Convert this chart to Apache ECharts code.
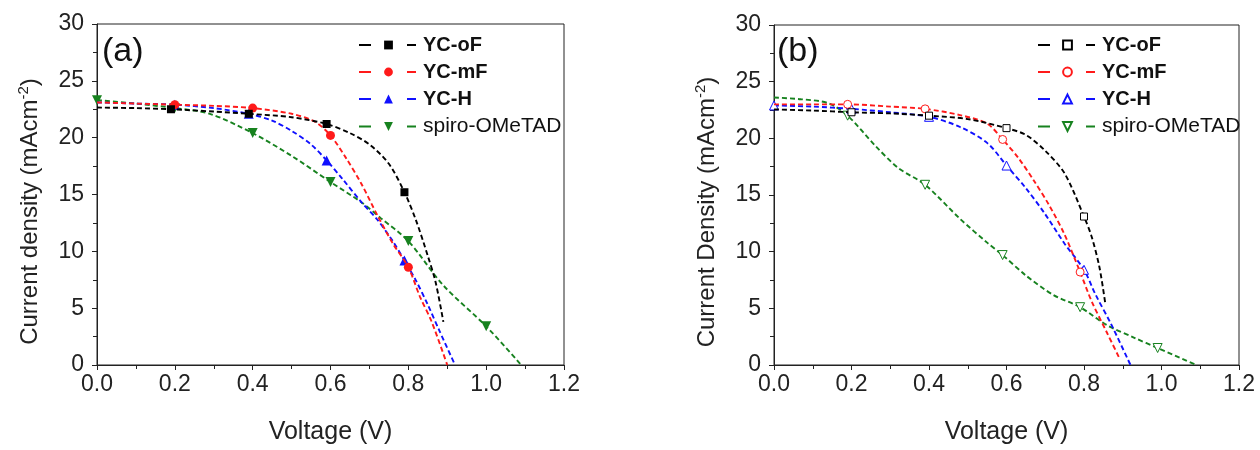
<!DOCTYPE html>
<html><head><meta charset="utf-8">
<script src="https://cdn.jsdelivr.net/npm/echarts@6/dist/echarts.min.js"></script>
<style>html,body{margin:0;padding:0;background:#fff}#c{width:1260px;height:450px}</style>
</head><body><div id="c"></div>
<script>
// ---------- data: panel (a) ----------
const names = ['YC-oF', 'YC-mF', 'YC-H', 'spiro-OMeTAD'];
const xTicks = [0, 0.2, 0.4, 0.6, 0.8, 1.0, 1.2];
const yTicks = [0, 5, 10, 15, 20, 25, 30];

const vA_oF = [0, 0.1, 0.19, 0.3, 0.39, 0.5, 0.59, 0.65, 0.7, 0.75, 0.79, 0.82, 0.85, 0.87, 0.89];
const jA_oF = [22.65, 22.6, 22.5, 22.3, 22.1, 21.8, 21.2, 20.4, 19.4, 17.7, 15.2, 12.7, 9.6, 7.3, 3.8];
const mA_oF = [2, 4, 6, 10];

const vA_mF = [0, 0.1, 0.2, 0.3, 0.4, 0.5, 0.56, 0.6, 0.64, 0.68, 0.72, 0.76, 0.8, 0.83, 0.86, 0.9];
const jA_mF = [23.1, 23.0, 22.9, 22.8, 22.6, 22.1, 21.4, 20.2, 18.2, 15.9, 13.2, 10.7, 8.6, 6.0, 3.8, 0];
const mA_mF = [2, 4, 7, 12];

const vA_H = [0, 0.1, 0.2, 0.3, 0.39, 0.45, 0.5, 0.55, 0.59, 0.63, 0.68, 0.72, 0.76, 0.79, 0.82, 0.85, 0.88, 0.92];
const jA_H = [23.1, 23.0, 22.9, 22.6, 22.1, 21.5, 20.6, 19.4, 18.0, 16.4, 14.3, 12.8, 10.9, 9.2, 7.4, 5.3, 3.0, 0];
const mA_H = [2, 4, 8, 13];

const vA_sp = [0, 0.1, 0.2, 0.29, 0.4, 0.5, 0.6, 0.68, 0.73, 0.8, 0.89, 1.0, 1.09];
const jA_sp = [23.3, 23.0, 22.6, 22.1, 20.4, 18.4, 16.1, 14.3, 12.9, 10.9, 7.0, 3.4, 0];
const mA_sp = [0, 2, 4, 6, 9, 11];

// ---------- data: panel (b) ----------
const vB_oF = [0, 0.1, 0.2, 0.3, 0.4, 0.5, 0.6, 0.65, 0.7, 0.75, 0.8, 0.82, 0.84, 0.855];
const jB_oF = [22.55, 22.45, 22.3, 22.2, 22.0, 21.7, 20.9, 20.3, 18.9, 16.9, 13.1, 11.3, 8.6, 5.4];
const mB_oF = [2, 4, 6, 10];

const vB_mF = [0, 0.1, 0.19, 0.3, 0.39, 0.48, 0.55, 0.59, 0.63, 0.67, 0.71, 0.75, 0.79, 0.82, 0.86, 0.89];
const jB_mF = [23.0, 23.0, 23.0, 22.8, 22.6, 22.05, 21.3, 19.9, 18.3, 16.3, 14.1, 11.5, 8.2, 5.6, 2.8, 0.7];
const mB_mF = [2, 4, 7, 12];

const vB_H = [0, 0.1, 0.2, 0.3, 0.4, 0.48, 0.55, 0.6, 0.65, 0.7, 0.75, 0.8, 0.83, 0.87, 0.92];
const jB_H = [22.9, 22.8, 22.6, 22.3, 21.9, 21.0, 19.6, 17.6, 15.6, 13.3, 10.7, 8.4, 6.2, 3.6, 0];
const mB_H = [0, 2, 4, 7, 11];

const vB_sp = [0, 0.07, 0.14, 0.19, 0.26, 0.32, 0.39, 0.48, 0.55, 0.59, 0.65, 0.72, 0.79, 0.86, 0.93, 0.99, 1.09];
const jB_sp = [23.6, 23.45, 23.1, 22.0, 19.4, 17.4, 15.9, 12.9, 10.8, 9.7, 7.9, 6.2, 5.1, 3.5, 2.4, 1.5, 0];
const mB_sp = [3, 6, 9, 12, 15];

// ---------- styles ----------
const colors = ['#000000', '#ff1a1a', '#1010ff', '#17821f'];
const symbols = ['rect', 'circle', 'triangle', 'path://M0,0 L10,0 L5,9 Z'];
const symSizes = [8, 9, 10, 10];
const FONT = 'Liberation Sans, Arial, sans-serif';

function pts(v, j, marks, sym) {
  return v.map((x, i) => ({ value: [x, j[i]], symbol: marks.indexOf(i) >= 0 ? sym : 'none' }));
}

const panels = [
  { sets: [[vA_oF, jA_oF, mA_oF], [vA_mF, jA_mF, mA_mF], [vA_H, jA_H, mA_H], [vA_sp, jA_sp, mA_sp]], open: false, suffix: '' },
  { sets: [[vB_oF, jB_oF, mB_oF], [vB_mF, jB_mF, mB_mF], [vB_H, jB_H, mB_H], [vB_sp, jB_sp, mB_sp]], open: true, suffix: '#b' }
];

const series = [];
panels.forEach((p, pi) => {
  p.sets.forEach((s, k) => {
    const c = colors[k];
    series.push({
      type: 'line', name: names[k] + p.suffix,
      xAxisIndex: pi, yAxisIndex: pi,
      data: pts(s[0], s[1], s[2], symbols[k]),
      smooth: 0.3,
      symbol: symbols[k], symbolSize: p.open ? symSizes[k] - 1 : symSizes[k],
      showSymbol: true,
      lineStyle: { color: c, width: 1.9, type: [5, 3] },
      itemStyle: p.open ? { color: '#ffffff', borderColor: c, borderWidth: 1 } : { color: c, borderWidth: 0 },
      emphasis: { disabled: true },
      z: 10 - k
    });
  });
});

function xAxis(gi) {
  return {
    type: 'value', gridIndex: gi, min: 0, max: 1.2, interval: 0.2,
    name: 'Voltage (V)', nameLocation: 'middle', nameGap: 55,
    nameTextStyle: { fontSize: 25, color: '#222', fontFamily: FONT },
    axisLine: { lineStyle: { color: '#222', width: 1 } },
    axisTick: { show: true, inside: false, length: 5, lineStyle: { color: '#222' } },
    minorTick: { show: true, splitNumber: 2, length: 4, lineStyle: { color: '#222' } },
    splitLine: { show: false },
    axisLabel: { fontSize: 23, color: '#222', fontFamily: FONT, margin: 8, formatter: v => v.toFixed(1) }
  };
}
function yAxis(gi, title) {
  return {
    type: 'value', gridIndex: gi, min: 0, max: 30, interval: 5,
    name: title, nameLocation: 'middle', nameGap: 53,
    nameTextStyle: { fontSize: 24, color: '#222', fontFamily: FONT, padding: [0, 34, 0, 0],
      rich: { sup: { fontSize: 15, color: '#222', fontFamily: FONT, padding: [0, 0, 13, 0] } } },
    axisLine: { show: true, lineStyle: { color: '#222', width: 1 } },
    axisTick: { show: true, inside: false, length: 5, lineStyle: { color: '#222' } },
    minorTick: { show: true, splitNumber: 2, length: 4, lineStyle: { color: '#222' } },
    splitLine: { show: false },
    axisLabel: { fontSize: 23, color: '#222', fontFamily: FONT, margin: 13 }
  };
}
function legend(left, suffix) {
  return {
    orient: 'vertical', left: left, top: 30,
    data: names.map(n => n + suffix),
    itemWidth: 59, itemHeight: 11, itemGap: 7,
    selectedMode: false,
    lineStyle: { type: [12, 36, 9, 100] },
    formatter: n => { const t = n.replace('#b', ''); return t.indexOf('YC') === 0 ? '{b|' + t + '}' : '{n|' + t + '}'; },
    textStyle: { fontFamily: FONT, color: '#111', lineHeight: 20,
      rich: { b: { fontSize: 20, fontWeight: 'bold', fontFamily: FONT, color: '#111' },
              n: { fontSize: 21, fontFamily: FONT, color: '#111' } } }
  };
}

const chart = echarts.init(document.getElementById('c'), null, { renderer: 'canvas' });
chart.setOption({
  animation: false,
  backgroundColor: '#fff',
  grid: [
    { left: 97, right: 696, top: 24, bottom: 83, show: true, borderColor: '#222', borderWidth: 1 },
    { left: 774, right: 21, top: 25, bottom: 84, show: true, borderColor: '#222', borderWidth: 1 }
  ],
  xAxis: [xAxis(0), xAxis(1)],
  yAxis: [yAxis(0, 'Current density (mAcm{sup|-2})'), yAxis(1, 'Current Density (mAcm{sup|-2})')],
  legend: [legend(353, ''), legend(1032, '#b')],
  graphic: [
    { type: 'text', left: 102, top: 35, style: { text: '(a)', fontSize: 34, fontFamily: FONT, fill: '#111' } },
    { type: 'text', left: 777, top: 35, style: { text: '(b)', fontSize: 34, fontFamily: FONT, fill: '#111' } }
  ],
  series: series
});
</script></body></html>
